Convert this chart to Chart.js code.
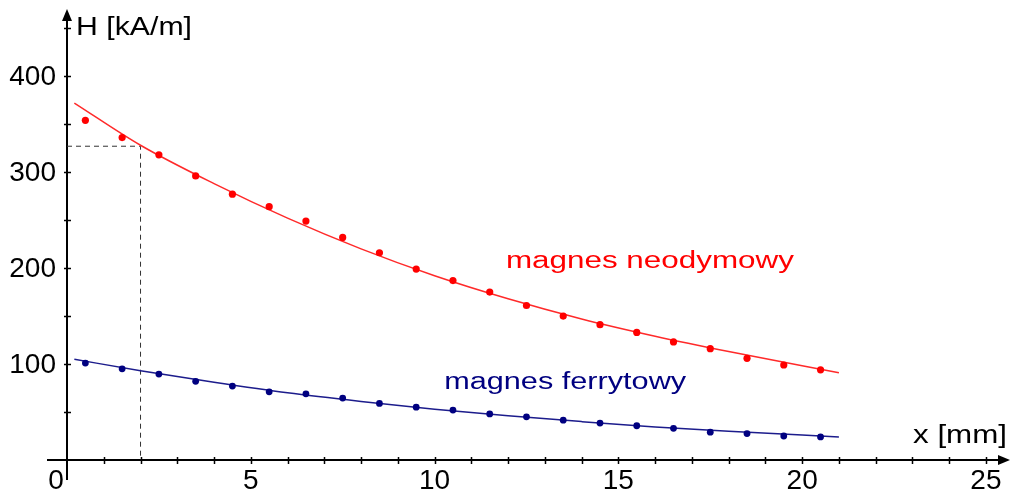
<!DOCTYPE html>
<html>
<head>
<meta charset="utf-8">
<script src="https://cdn.jsdelivr.net/npm/chart.js@4.4.0/dist/chart.umd.min.js"></script>
<style>
body { margin: 0; background: #fff; }
</style>
</head>
<body>
<canvas id="myChart" width="1012" height="497"></canvas>
<script>
// punkty pomiarowe, x w mm
var xPoints = [0.5, 1.5, 2.5, 3.5, 4.5, 5.5, 6.5, 7.5, 8.5, 9.5, 10.5, 11.5, 12.5, 13.5, 14.5, 15.5, 16.5, 17.5, 18.5, 19.5, 20.5];
var neoPoints = [354, 336, 318, 296, 277, 264, 249, 232, 216, 199, 187, 175, 161, 150, 141, 133, 123, 116, 106, 99, 94];
var ferrPoints = [101, 95, 89.5, 82, 77, 71, 69, 64.5, 59, 55, 52, 48, 45, 41.5, 38.5, 35.7, 33, 29, 27.5, 25, 24];

// krzywe dopasowania
var fitX = [0.2, 2, 4, 6, 8, 10, 12, 14, 16, 18, 21];
var neoFit = [372, 328, 288, 252, 220, 192, 168, 147, 129, 113, 91];
var ferrFit = [105, 93, 81, 70, 61, 53, 46, 40, 34.5, 30, 24];

// odczyt przy x = 2 mm
var markX = 2;
var markH = 327;

var xTickLabels = [0, 5, 10, 15, 20, 25];
var yTickLabels = [100, 200, 300, 400];

function toXY(xs, ys) {
    return xs.map(function(x, i) { return { x: x, y: ys[i] }; });
}

// tekst rozciagniety w poziomie do zadanej szerokosci
function stretchText(ctx, text, x, y, width) {
    var w = ctx.measureText(text).width;
    ctx.save();
    ctx.translate(x, y);
    ctx.scale(width / w, 1);
    ctx.fillText(text, 0, 0);
    ctx.restore();
}

var axesPlugin = {
    id: 'axes',
    beforeDatasetsDraw: function(chart) {
        var ctx = chart.ctx;
        var xs = chart.scales.x, ys = chart.scales.y;
        var x0 = xs.getPixelForValue(0), y0 = ys.getPixelForValue(0);
        var right = chart.width - 2;
        ctx.save();
        ctx.strokeStyle = '#000';
        ctx.fillStyle = '#000';
        ctx.lineWidth = 2;
        ctx.beginPath();
        ctx.moveTo(x0 - 20, y0);
        ctx.lineTo(right - 8, y0);
        ctx.moveTo(x0, y0 + 20);
        ctx.lineTo(x0, 18);
        ctx.stroke();

        // strzalki
        ctx.beginPath();
        ctx.moveTo(right, y0);
        ctx.lineTo(right - 12, y0 - 5);
        ctx.lineTo(right - 12, y0 + 5);
        ctx.closePath();
        ctx.fill();
        ctx.beginPath();
        ctx.moveTo(x0, 9);
        ctx.lineTo(x0 - 5, 21);
        ctx.lineTo(x0 + 5, 21);
        ctx.closePath();
        ctx.fill();

        // znaczniki
        ctx.lineWidth = 1.5;
        ctx.beginPath();
        for (var i = 1; i <= 25; i++) {
            var px = Math.round(xs.getPixelForValue(i)) + 0.5;
            ctx.moveTo(px, y0 - 3);
            ctx.lineTo(px, y0 + 4);
        }
        for (var v = 50; v <= 450; v += 50) {
            var py = Math.round(ys.getPixelForValue(v)) + 0.5;
            ctx.moveTo(x0 - 3, py);
            ctx.lineTo(x0 + 4, py);
        }
        ctx.stroke();

        // opisy osi
        ctx.font = '28px "Liberation Sans", Arial, sans-serif';
        ctx.textBaseline = 'alphabetic';
        ctx.textAlign = 'center';
        xTickLabels.forEach(function(t) {
            var px = xs.getPixelForValue(t);
            if (t === 0) px -= 11;
            ctx.fillText(String(t), px, y0 + 29);
        });
        ctx.textAlign = 'right';
        ctx.textBaseline = 'middle';
        yTickLabels.forEach(function(t) {
            ctx.fillText(String(t), x0 - 11, ys.getPixelForValue(t) + 1);
        });

        ctx.font = '25px "Liberation Sans", Arial, sans-serif';
        ctx.textAlign = 'left';
        ctx.textBaseline = 'alphabetic';
        stretchText(ctx, 'H [kA/m]', x0 + 9, 35, 116);
        stretchText(ctx, 'x [mm]', 913, y0 - 17, 94);
        ctx.restore();
    },
    afterDatasetsDraw: function(chart) {
        var ctx = chart.ctx;
        var xs = chart.scales.x, ys = chart.scales.y;
        ctx.save();
        ctx.font = '23px "Liberation Sans", Arial, sans-serif';
        ctx.textAlign = 'left';
        ctx.textBaseline = 'alphabetic';
        ctx.fillStyle = '#ff0000';
        stretchText(ctx, 'magnes neodymowy', xs.getPixelForValue(11.94), ys.getPixelForValue(200), 288);
        ctx.fillStyle = '#000080';
        stretchText(ctx, 'magnes ferrytowy', xs.getPixelForValue(10.26), ys.getPixelForValue(74), 242);
        ctx.restore();
    }
};

var ctx = document.getElementById('myChart').getContext('2d');
var myChart = new Chart(ctx, {
    type: 'scatter',
    data: {
        datasets: [{
            label: 'neodymowy',
            data: toXY(xPoints, neoPoints),
            backgroundColor: '#ff0000',
            borderColor: '#ff0000',
            pointRadius: 3.6,
            borderWidth: 0
        }, {
            label: 'ferrytowy',
            data: toXY(xPoints, ferrPoints),
            backgroundColor: '#000080',
            borderColor: '#000080',
            pointRadius: 3.4,
            borderWidth: 0
        }, {
            label: 'neo fit',
            data: toXY(fitX, neoFit),
            showLine: true,
            borderColor: '#ff2a2a',
            borderWidth: 1.5,
            pointRadius: 0,
            cubicInterpolationMode: 'monotone'
        }, {
            label: 'ferr fit',
            data: toXY(fitX, ferrFit),
            showLine: true,
            borderColor: '#1c1c8c',
            borderWidth: 1.5,
            pointRadius: 0,
            cubicInterpolationMode: 'monotone'
        }, {
            label: 'odczyt',
            data: [{ x: 0, y: markH }, { x: markX, y: markH }, { x: markX, y: 0 }],
            showLine: true,
            borderColor: '#333333',
            borderWidth: 1,
            borderDash: [5, 4],
            pointRadius: 0,
            tension: 0
        }]
    },
    options: {
        responsive: false,
        devicePixelRatio: 1,
        animation: false,
        layout: {
            padding: { left: 67, right: 2, top: 9, bottom: 37 }
        },
        scales: {
            x: { type: 'linear', min: 0, max: 25.6, display: false },
            y: { type: 'linear', min: 0, max: 470, display: false }
        },
        plugins: {
            legend: { display: false },
            tooltip: { enabled: false }
        }
    },
    plugins: [axesPlugin]
});
</script>
</body>
</html>
